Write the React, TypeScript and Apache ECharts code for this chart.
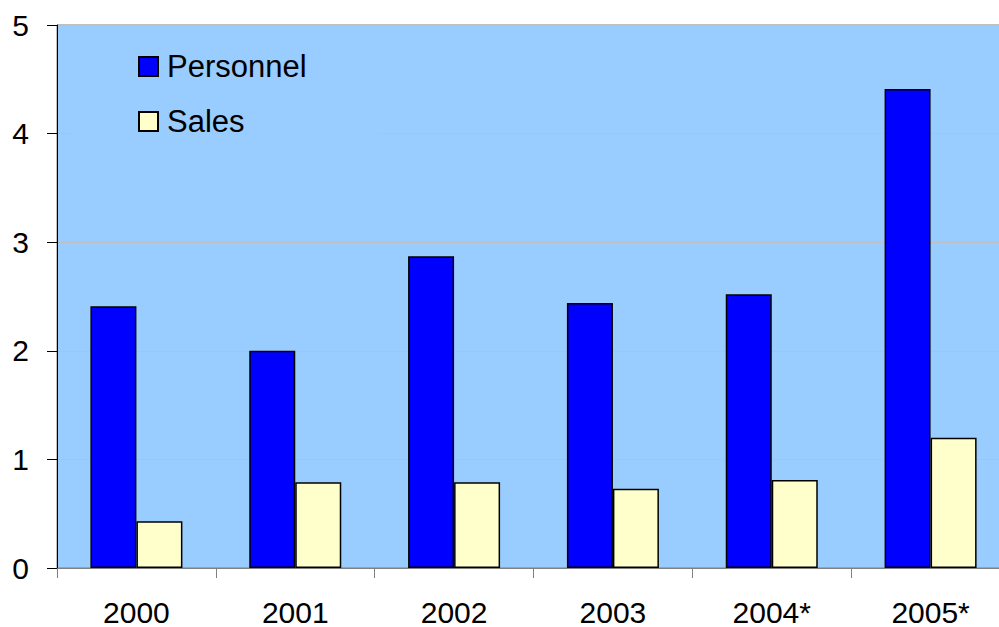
import React, { useEffect, useRef } from "react";
import * as echarts from "echarts";

const categories = ["2000", "2001", "2002", "2003", "2004*", "2005*"];
const personnel = [2.41, 2.0, 2.87, 2.44, 2.52, 4.41];
const sales = [0.43, 0.79, 0.79, 0.73, 0.81, 1.2];
const seriesNames = ["Personnel", "Sales"];

export default function App() {
  const ref = useRef<HTMLDivElement>(null);
  useEffect(() => {
    if (!ref.current) return;
    const chart = echarts.init(ref.current, null, { renderer: "svg" });
    const font = "'Liberation Sans', Arial, sans-serif";
    chart.setOption({
      animation: false,
      backgroundColor: "#ffffff",
      textStyle: { fontFamily: font },
      grid: {
        left: 57,
        top: 25,
        height: 544,
        right: 0,
        show: true,
        backgroundColor: "#99CCFF",
        borderColor: "#808080",
        borderWidth: 1,
      },
      legend: {
        orient: "vertical",
        left: 73,
        top: 36,
        padding: [15, 72, 15, 65],
        backgroundColor: "#99CCFF",
        icon: "rect",
        itemWidth: 19,
        itemHeight: 19,
        itemGap: 24,
        textStyle: { fontSize: 31, color: "#000", fontFamily: font, padding: [0, 0, 0, 4] },
        data: seriesNames,
      },
      xAxis: {
        type: "category",
        data: categories,
        boundaryGap: true,
        axisLine: { show: true, lineStyle: { color: "#808080", width: 1 } },
        axisTick: { show: true, length: 10, lineStyle: { color: "#808080" } },
        axisLabel: { fontSize: 30, lineHeight: 28, color: "#000", margin: 30, fontFamily: font },
        splitLine: { show: false },
      },
      yAxis: {
        type: "value",
        min: 0,
        max: 5,
        interval: 1,
        axisLine: { show: true, lineStyle: { color: "#000", width: 1 } },
        axisTick: { show: true, length: 10, lineStyle: { color: "#000" } },
        axisLabel: { fontSize: 30, color: "#000", margin: 28, fontFamily: font },
        splitLine: { show: true, lineStyle: { color: "#BFBFBF", width: 1 } },
      },
      series: [
        {
          name: seriesNames[0],
          type: "bar",
          data: personnel,
          barWidth: 46,
          barGap: "0%",
          itemStyle: { color: "#0000FF", borderColor: "#000", borderWidth: 1.5 },
        },
        {
          name: seriesNames[1],
          type: "bar",
          data: sales,
          barWidth: 46,
          barGap: "0%",
          itemStyle: { color: "#FFFFCC", borderColor: "#000", borderWidth: 1.5 },
        },
      ],
    });
    return () => chart.dispose();
  }, []);
  return (
    <div style={{ position: "fixed", left: 0, top: 0, width: 999, height: 627, overflow: "hidden" }}>
      <div ref={ref} style={{ width: 1010, height: 627 }} />
    </div>
  );
}
